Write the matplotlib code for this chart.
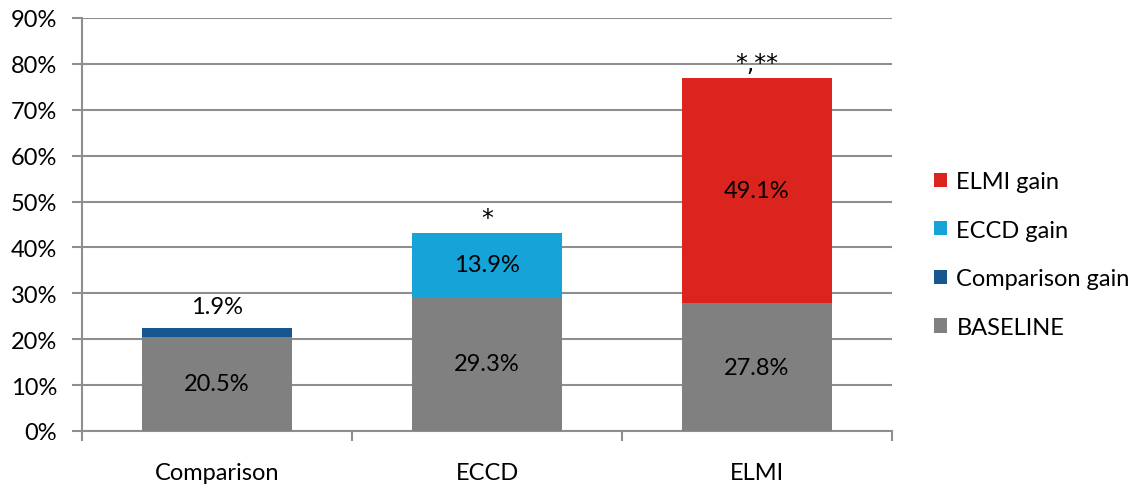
import matplotlib
matplotlib.use("Agg")
import matplotlib.pyplot as plt
import numpy as np

plt.rcParams['font.family'] = ['Lato', 'DejaVu Sans']

categories = ["Comparison", "ECCD", "ELMI"]
baseline = [20.5, 29.3, 27.8]
comparison_gain = [1.9, 0.0, 0.0]
eccd_gain = [0.0, 13.9, 0.0]
elmi_gain = [0.0, 0.0, 49.1]
significance = ["", "*", "*,**"]
y_ticks = [0, 10, 20, 30, 40, 50, 60, 70, 80, 90]

c_base = "#808080"
c_comp = "#17578F"
c_eccd = "#15A3D8"
c_elmi = "#DB241E"
grid_c = "#8E8E8E"

fig = plt.figure(figsize=(11.4, 4.89), dpi=100)
ax = fig.add_axes([82 / 1140, (489 - 432) / 489, (892 - 82) / 1140, (432 - 19) / 489])

x = np.arange(len(categories))
w = 0.556
b0 = ax.bar(x, baseline, w, color=c_base, label="BASELINE", zorder=3)
b1 = ax.bar(x, comparison_gain, w, bottom=baseline, color=c_comp, label="Comparison gain", zorder=3)
b2 = ax.bar(x, eccd_gain, w, bottom=baseline, color=c_eccd, label="ECCD gain", zorder=3)
b3 = ax.bar(x, elmi_gain, w, bottom=baseline, color=c_elmi, label="ELMI gain", zorder=3)

fs = 17
for i in range(len(categories)):
    ax.text(x[i], baseline[i] / 2, f"{baseline[i]:.1f}%", ha="center", va="center",
            fontsize=fs, color="black", zorder=4)
    top = baseline[i]
    gain = comparison_gain[i] + eccd_gain[i] + elmi_gain[i]
    if comparison_gain[i] > 0:
        ax.text(x[i], top + gain + 2.4, f"{comparison_gain[i]:.1f}%", ha="center", va="bottom",
                fontsize=fs, color="black", zorder=4)
    elif gain > 0:
        ax.text(x[i], top + gain / 2, f"{gain:.1f}%", ha="center", va="center",
                fontsize=fs, color="black", zorder=4)
    if significance[i]:
        ax.text(x[i], top + gain + 0.6, significance[i], ha="center", va="bottom",
                fontsize=fs, family="DejaVu Sans", color="black", zorder=4)

ax.set_xlim(-0.5, len(categories) - 0.5)
ax.set_ylim(0, 90)
ax.set_yticks(y_ticks)
ax.set_yticklabels([f"{v}%" for v in y_ticks], fontsize=fs)
ax.yaxis.grid(True, color=grid_c, linewidth=1.5, zorder=0)
ax.set_axisbelow(True)

ax.set_xticks(x)
ax.set_xticklabels(categories, fontsize=fs)
ax.tick_params(axis="x", length=0, pad=22)
ax.set_xticks(np.arange(len(categories) + 1) - 0.5, minor=True)
ax.tick_params(axis="x", which="minor", length=7, width=1.5, color=grid_c)
ax.tick_params(axis="y", length=7, width=1.5, color=grid_c, pad=11)

for s in ["top", "right"]:
    ax.spines[s].set_visible(False)
for s in ["left", "bottom"]:
    ax.spines[s].set_color(grid_c)
    ax.spines[s].set_linewidth(1.5)

handles = [b3, b2, b1, b0]
labels = ["ELMI gain", "ECCD gain", "Comparison gain", "BASELINE"]
fig.legend(handles, labels, loc="upper left", bbox_to_anchor=(934 / 1140, 1 - 172 / 489),
           frameon=False, fontsize=fs, handlelength=0.55, handleheight=0.55,
           handletextpad=0.4, labelspacing=1.17, borderaxespad=0, borderpad=0)

fig.savefig("out.png", dpi=100)
